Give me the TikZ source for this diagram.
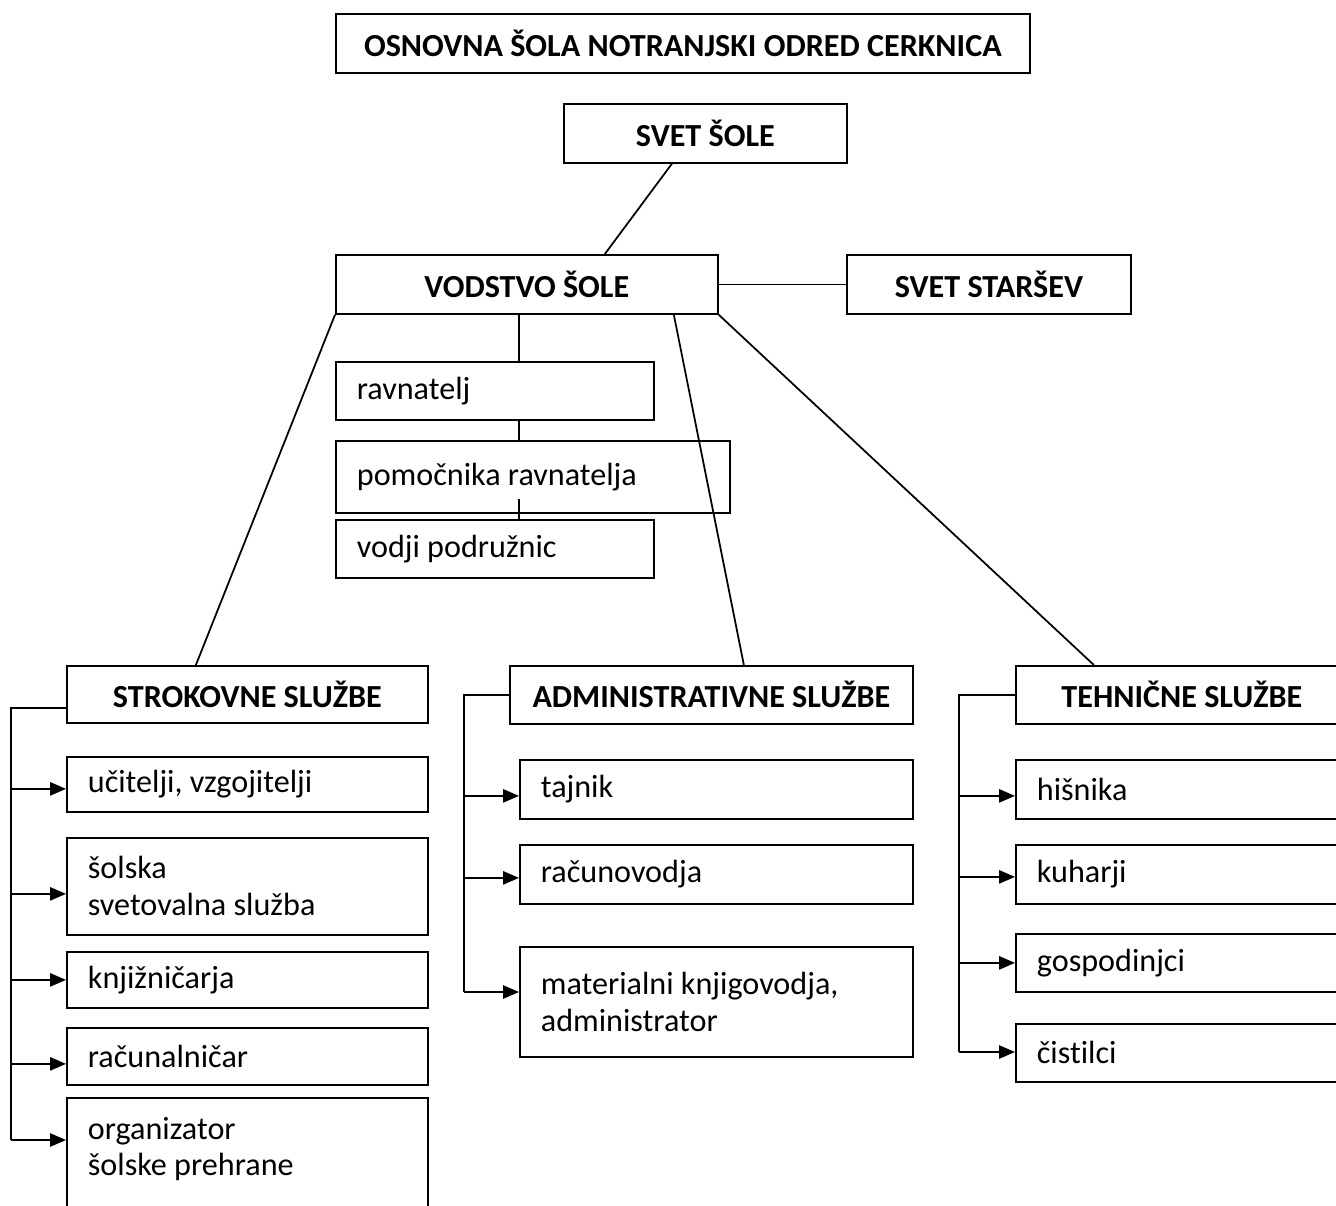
\documentclass[tikz,border=0pt]{standalone}
\usepackage{fontspec}
\setmainfont{Carlito}[Ligatures=NoCommon]
\usetikzlibrary{arrows.meta}

\begin{document}
\begin{tikzpicture}[x=0.02cm,y=-0.02cm,line width=1pt,
    hdr/.style 2 args={draw, anchor=north west, inner sep=0pt,
      minimum width=#1*0.02cm, minimum height=#2*0.02cm,
      font=\bfseries\fontsize{18.3}{21}\selectfont},
    box/.style 2 args={draw, anchor=north west, inner ysep=0pt, inner xsep=0.42cm,
      text width=#1*0.02cm-0.84cm, minimum height=#2*0.02cm, align=flush left,
      font=\fontsize{18.3}{21}\selectfont},
    arr/.style={-{Triangle[length=9pt,width=7.5pt]}}]
    \useasboundingbox (0,0) rectangle (1336,1205);
    \clip (0,0) rectangle (1336,1205);
    % top of the chart
    \node[hdr={694}{59}] (osnovna) at (335,13) {OSNOVNA ŠOLA NOTRANJSKI ODRED CERKNICA};
    \node[hdr={283}{59}] (svet) at (563,103) {SVET ŠOLE};
    \node[hdr={382}{59}] (vodstvo) at (335,254) {VODSTVO ŠOLE};
    \node[hdr={284}{59}] (starsi) at (846,254) {SVET STARŠEV};
    \node[box={318}{58}] (ravn) at (335,361) {ravnatelj};
    \node[box={394}{72}] (pomoc) at (335,440) {pomočnika ravnatelja};
    \node[box={318}{58}] (vodji) at (335,519) {vodji podružnic};
    % services
    \node[hdr={361}{57}] (strok) at (66,665) {STROKOVNE SLUŽBE};
    \node[hdr={403}{58}] (admin) at (509,665) {ADMINISTRATIVNE SLUŽBE};
    \node[hdr={332}{58}] (tehn) at (1015,665) {TEHNIČNE SLUŽBE};
    \node[box={361}{55}] (ucit) at (66,756) {učitelji, vzgojitelji};
    \node[box={361}{97}] (svetov) at (66,837) {šolska\\svetovalna služba};
    \node[box={361}{56}] (knjiz) at (66,951) {knjižničarja};
    \node[box={361}{57}] (racun) at (66,1027) {računalničar};
    \node[box={361}{134}] (organ) at (66,1097) {organizator\\šolske prehrane\\\mbox{}};
    \node[box={393}{59}] (tajnik) at (519,759) {tajnik};
    \node[box={393}{59}] (racvod) at (519,844) {računovodja};
    \node[box={393}{110}] (mater) at (519,946) {materialni knjigovodja,\\administrator};
    \node[box={332}{59}] (hisnik) at (1015,759) {hišnika};
    \node[box={332}{59}] (kuhar) at (1015,844) {kuharji};
    \node[box={332}{58}] (gospod) at (1015,933) {gospodinjci};
    \node[box={332}{58}] (cistil) at (1015,1023) {čistilci};
    % lines between the boxes
    \draw ([xshift=-0.67cm]svet.south) -- ([xshift=1.56cm]vodstvo.north);
    \draw (vodstvo) -- (starsi);
    \coordinate (spine) at (519,0);
    \draw (vodstvo.south -| spine) -- (ravn.north -| spine);
    \draw (ravn.south -| spine) -- (pomoc.north -| spine);
    \draw (vodji.north -| spine) -- ++(0,-20);
    \draw (vodstvo.south west) -- ([xshift=-1.03cm]strok.north);
    \draw ([xshift=2.94cm]vodstvo.south) -- ([xshift=0.65cm]admin.north);
    \draw (vodstvo.south east) -- ([xshift=-1.76cm]tehn.north);
    % brackets with arrows
    \coordinate (sk) at (11,1140);
    \coordinate (ak) at (464,992);
    \coordinate (tk) at (959,1052);
    \draw ([yshift=-0.27cm]strok.west) -| (sk);
    \draw (admin.west) -| (ak);
    \draw (tehn.west) -| (tk);
    \draw[arr] ([yshift=-0.09cm]ucit.west -| sk) -- ([yshift=-0.09cm]ucit.west);
    \draw[arr] ([yshift=-0.15cm]svetov.west -| sk) -- ([yshift=-0.15cm]svetov.west);
    \draw[arr] (knjiz.west -| sk) -- (knjiz.west);
    \draw[arr] ([yshift=-0.15cm]racun.west -| sk) -- ([yshift=-0.15cm]racun.west);
    \draw[arr] (sk) -- (sk -| organ.west);
    \draw[arr] ([yshift=-0.13cm]tajnik.west -| ak) -- ([yshift=-0.13cm]tajnik.west);
    \draw[arr] ([yshift=-0.07cm]racvod.west -| ak) -- ([yshift=-0.07cm]racvod.west);
    \draw[arr] (ak) -- (ak -| mater.west);
    \draw[arr] ([yshift=-0.13cm]hisnik.west -| tk) -- ([yshift=-0.13cm]hisnik.west);
    \draw[arr] ([yshift=-0.05cm]kuhar.west -| tk) -- ([yshift=-0.05cm]kuhar.west);
    \draw[arr] (gospod.west -| tk) -- (gospod.west);
    \draw[arr] (tk) -- (tk -| cistil.west);
\end{tikzpicture}
\end{document}
